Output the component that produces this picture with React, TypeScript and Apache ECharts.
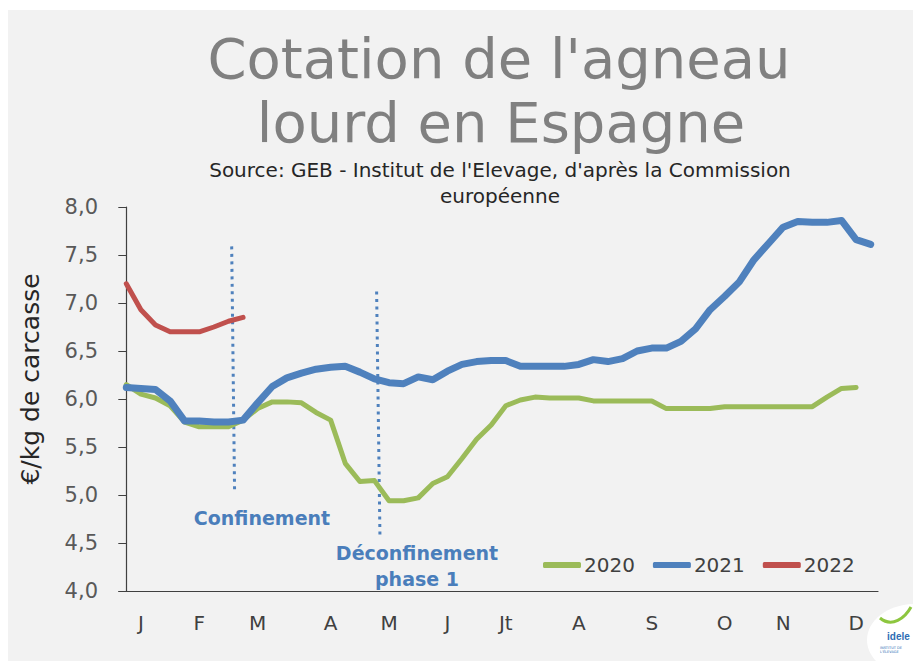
import React, { useEffect, useRef } from "react";
import * as echarts from "echarts";

const weekCategories = Array.from({ length: 52 }, (_, i) => `S${i + 1}`);
const monthLabels = ["J", "F", "M", "A", "M", "J", "Jt", "A", "S", "O", "N", "D"];
const monthWeekIndex = [1, 5, 9, 14, 18, 22, 26, 31, 36, 41, 45, 50];

const values2020 = [6.15, 6.05, 6.01, 5.93, 5.76, 5.71, 5.71, 5.71, 5.78, 5.9, 5.97, 5.97, 5.96, 5.86, 5.78, 5.33, 5.14, 5.15, 4.94, 4.94, 4.97, 5.12, 5.19, 5.38, 5.58, 5.73, 5.93, 5.99, 6.02, 6.01, 6.01, 6.01, 5.98, 5.98, 5.98, 5.98, 5.98, 5.9, 5.9, 5.9, 5.9, 5.92, 5.92, 5.92, 5.92, 5.92, 5.92, 5.92, 6.02, 6.11, 6.12];
const values2021 = [6.12, 6.11, 6.1, 5.98, 5.77, 5.77, 5.76, 5.76, 5.78, 5.96, 6.13, 6.22, 6.27, 6.31, 6.33, 6.34, 6.28, 6.21, 6.17, 6.16, 6.23, 6.2, 6.29, 6.36, 6.39, 6.4, 6.4, 6.34, 6.34, 6.34, 6.34, 6.36, 6.41, 6.39, 6.42, 6.5, 6.53, 6.53, 6.6, 6.73, 6.93, 7.07, 7.22, 7.45, 7.62, 7.79, 7.85, 7.84, 7.84, 7.86, 7.66, 7.61];
const values2022 = [7.2, 6.93, 6.77, 6.7, 6.7, 6.7, 6.75, 6.81, 6.85];

const confinementLine = [[7.22, 7.59], [7.42, 5.02]];
const deconfinementLine = [[17.15, 7.12], [17.38, 4.55]];

const yTicks = { min: 4, max: 8, interval: 0.5 };

export default function App() {
  const ref = useRef<HTMLDivElement>(null);
  useEffect(() => {
    if (!ref.current) return;
    const chart = echarts.init(ref.current, null, { renderer: "svg" });
    const font = "'DejaVu Sans', sans-serif";
    const labelMap: Record<number, string> = {};
    monthWeekIndex.forEach((w, k) => (labelMap[w] = monthLabels[k]));
    const dotted = {
      type: "line",
      xAxisIndex: 1,
      symbol: "none",
      silent: true,
      z: 1,
      lineStyle: { color: "#4f81bd", width: 3, type: [3, 4.5], cap: "butt" },
    };
    chart.setOption({
      animation: false,
      backgroundColor: "#ffffff",
      textStyle: { fontFamily: font },
      grid: { left: 119, right: 35, top: 207, bottom: 70, containLabel: false },
      legend: {
        left: 538,
        top: 550,
        itemWidth: 38,
        itemHeight: 6,
        itemGap: 18,
        icon: "roundRect",
        data: ["2020", "2021", "2022"],
        textStyle: { fontSize: 20, color: "#404040", fontFamily: font, padding: [0, 0, 0, -2] },
      },
      xAxis: [
        {
          type: "category",
          data: weekCategories,
          boundaryGap: true,
          axisLine: { lineStyle: { color: "#404040", width: 1.2 } },
          axisTick: { show: false },
          axisLabel: {
            interval: 0,
            margin: 22,
            fontSize: 20,
            color: "#404040",
            formatter: (_v: string, i: number) => labelMap[i] ?? "",
          },
          splitLine: { show: false },
        },
        {
          type: "value",
          min: -0.5,
          max: 51.5,
          show: false,
        },
      ],
      yAxis: {
        type: "value",
        min: yTicks.min,
        max: yTicks.max,
        interval: yTicks.interval,
        axisLine: { show: true, lineStyle: { color: "#404040", width: 1.2 } },
        axisTick: { show: true, length: 8, lineStyle: { color: "#404040" } },
        axisLabel: {
          fontSize: 21,
          color: "#595959",
          margin: 21,
          formatter: (v: number) => v.toFixed(1).replace(".", ","),
        },
        splitLine: { show: false },
      },
      series: [
        {
          name: "2020",
          type: "line",
          data: values2020,
          symbol: "none",
          color: "#9bbb59",
          lineStyle: { width: 5, color: "#9bbb59", cap: "round", join: "round" },
          z: 2,
        },
        {
          name: "2021",
          type: "line",
          data: values2021,
          symbol: "none",
          color: "#4f81bd",
          lineStyle: { width: 7, color: "#4f81bd", cap: "round", join: "round" },
          z: 3,
        },
        {
          name: "2022",
          type: "line",
          data: values2022,
          symbol: "none",
          color: "#c0504d",
          lineStyle: { width: 5, color: "#c0504d", cap: "round", join: "round" },
          z: 4,
        },
        { ...dotted, name: "conf", data: confinementLine },
        { ...dotted, name: "deconf", data: deconfinementLine },
      ],
      graphic: [
        {
          type: "rect",
          z: -10,
          silent: true,
          shape: { x: 8, y: 10, width: 905, height: 651 },
          style: { fill: "#f2f2f2" },
        },
        {
          type: "text",
          x: 30,
          y: 379,
          rotation: Math.PI / 2,
          style: { text: "€/kg de carcasse", font: `25px ${font}`, fill: "#262626", align: "center", verticalAlign: "middle" },
        },
        {
          type: "text",
          x: 499,
          y: 58,
          style: { text: "Cotation de l'agneau", font: `56px ${font}`, fill: "#808080", align: "center", verticalAlign: "middle" },
        },
        {
          type: "text",
          x: 501,
          y: 122,
          style: { text: "lourd en Espagne", font: `56px ${font}`, fill: "#808080", align: "center", verticalAlign: "middle" },
        },
        {
          type: "text",
          x: 500,
          y: 170,
          style: { text: "Source: GEB - Institut de l'Elevage, d'après la Commission", font: `20px ${font}`, fill: "#262626", align: "center", verticalAlign: "middle" },
        },
        {
          type: "text",
          x: 500,
          y: 196,
          style: { text: "européenne", font: `20px ${font}`, fill: "#262626", align: "center", verticalAlign: "middle" },
        },
        {
          type: "text",
          x: 262,
          y: 518,
          style: { text: "Confinement", font: `bold 19px ${font}`, fill: "#4a7ebb", align: "center", verticalAlign: "middle" },
        },
        {
          type: "text",
          x: 417,
          y: 553,
          style: { text: "Déconfinement", font: `bold 19px ${font}`, fill: "#4a7ebb", align: "center", verticalAlign: "middle" },
        },
        {
          type: "text",
          x: 417,
          y: 579,
          style: { text: "phase 1", font: `bold 19px ${font}`, fill: "#4a7ebb", align: "center", verticalAlign: "middle" },
        },
        {
          type: "ellipse",
          shape: { cx: 915, cy: 640, rx: 48, ry: 36 },
          style: { fill: "#ffffff" },
        },
        {
          type: "bezierCurve",
          shape: { x1: 880, y1: 618, x2: 911, y2: 607, cpx1: 892, cpy1: 628, cpx2: 905, cpy2: 618 },
          style: { stroke: "#8dc63f", lineWidth: 3, fill: null },
        },
        {
          type: "text",
          x: 887,
          y: 636,
          style: { text: "idele", font: `bold 10px 'Liberation Sans Narrow', 'Liberation Sans', sans-serif`, fill: "#2e6db4", align: "left", verticalAlign: "middle" },
        },
        {
          type: "text",
          x: 880,
          y: 650,
          style: { text: "INSTITUT DE\nL'ÉLEVAGE", font: `3.5px ${font}`, fill: "#2e6db4", align: "left", verticalAlign: "middle" },
        },
      ],
    });
    return () => chart.dispose();
  }, []);
  return <div ref={ref} style={{ position: "fixed", left: 0, top: 0, width: 913, height: 661 }} />;
}
